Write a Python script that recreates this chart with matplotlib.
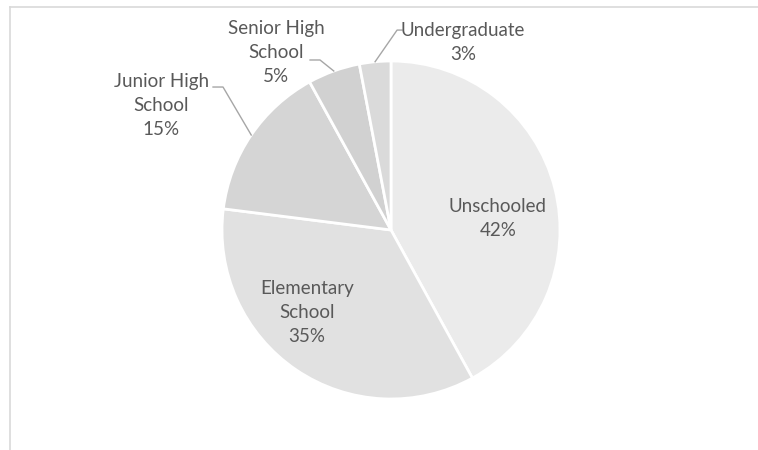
import matplotlib
matplotlib.use("Agg")
import matplotlib.pyplot as plt
from matplotlib.lines import Line2D
import numpy as np

categories = ["Unschooled", "Elementary\nSchool", "Junior High\nSchool", "Senior High\nSchool", "Undergraduate"]
values = [42, 35, 15, 5, 3]
pct_labels = ["42%", "35%", "15%", "5%", "3%"]
colors = ["#ebebeb", "#e1e1e1", "#d5d5d5", "#d1d1d1", "#dadada"]

# layout: label centres (in pie-radius units), and leader elbow / end points (None = inside)
label_pos = [(0.633, 0.071), (-0.497, -0.491), (-1.36, 0.734), (-0.68, 1.053), (0.426, 1.107)]
leader_elbow = [None, None, (-0.994, 0.846), (-0.42, 1.006), (0.036, 1.183)]
leader_end = [None, None, (-1.053, 0.846), (-0.479, 1.006), (0.065, 1.183)]

W, H = 758, 450
fig = plt.figure(figsize=(W / 100, H / 100), dpi=100)
cx, cy, R = 391, 230, 169
ax = fig.add_axes([(cx - R) / W, (H - cy - R) / H, 2 * R / W, 2 * R / H])

wedges, _ = ax.pie(values, colors=colors, startangle=90, counterclock=False,
                   radius=1, wedgeprops=dict(edgecolor="white", linewidth=2.0))
ax.set_xlim(-1, 1)
ax.set_ylim(-1, 1)
ax.axis("off")

total = sum(values)
cum = 0
font = ["Lato", "DejaVu Sans"]
for i, v in enumerate(values):
    mid = 90 - (cum + v / 2) / total * 360
    cum += v
    txt = categories[i] + "\n" + pct_labels[i]
    lx, ly = label_pos[i]
    ax.text(lx, ly, txt, ha="center", va="center", fontsize=13.5, color="#595959",
            family=font, linespacing=1.5, clip_on=False)
    if leader_elbow[i] is not None:
        ex, ey = np.cos(np.radians(mid)), np.sin(np.radians(mid))
        bx, by = leader_elbow[i]
        tx, ty = leader_end[i]
        ax.plot([ex, bx, tx], [ey, by, ty], color="#a6a6a6", lw=1.0, clip_on=False)

# chart frame (partial border)
fig.add_artist(Line2D([10 / W, 1], [1 - 7 / H, 1 - 7 / H], color="#d9d9d9", lw=1.2))
fig.add_artist(Line2D([10 / W, 10 / W], [0, 1 - 7 / H], color="#d9d9d9", lw=1.2))

fig.savefig("out.png", dpi=100)
